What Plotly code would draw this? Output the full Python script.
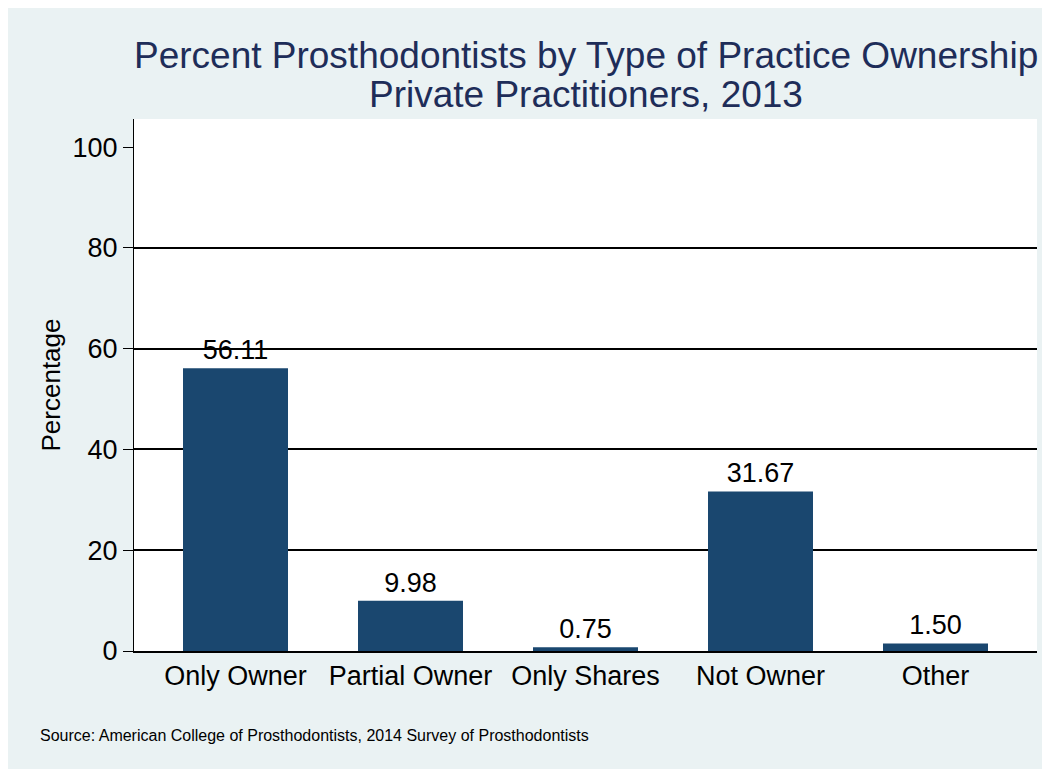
import plotly.graph_objects as go

categories = ["Only Owner", "Partial Owner", "Only Shares", "Not Owner", "Other"]
percentages = [56.11, 9.98, 0.75, 31.67, 1.50]
y_ticks = [0, 20, 40, 60, 80, 100]
grid_values = [20, 40, 60, 80]
title_line1 = "Percent Prosthodontists by Type of Practice Ownership"
title_line2 = "Private Practitioners, 2013"
source_text = "Source: American College of Prosthodontists, 2014 Survey of Prosthodontists"

FONT = "Arial, 'Liberation Sans', sans-serif"
BG = "#EAF2F3"
BAR = "#1A476F"
TITLE_C = "#1E2D59"

W, H = 1050, 769
OFF = 8  # page body margin
# plot-area edges in screen pixels
SL, SR, ST, SB = 134, 1037, 119, 651
L, T = SL - OFF, ST - OFF
R, B = W - (SR - OFF), H - (SB - OFF)
PW, PH = SR - SL, SB - ST

def px_x(x):
    return (x - SL) / PW

def px_y(y):
    return (SB - y) / PH

fig = go.Figure()
fig.add_trace(go.Bar(
    x=categories,
    y=percentages,
    marker=dict(color=BAR, line=dict(width=0)),
    width=0.6,
    text=[f"{v:.2f}" for v in percentages],
    textposition="outside",
    textfont=dict(family=FONT, size=27, color="black"),
    cliponaxis=False,
))

fig.update_layout(
    width=W, height=H,
    margin=dict(l=L, r=R, t=T, b=B, autoexpand=False),
    paper_bgcolor=BG,
    plot_bgcolor="white",
    showlegend=False,
    font=dict(family=FONT, color="black"),
    xaxis=dict(
        range=[-0.58, 4.58],
        showline=True, linecolor="black", linewidth=2,
        ticks="", showgrid=False,
        tickfont=dict(size=27, color="black"),
        fixedrange=True,
    ),
    yaxis=dict(
        range=[0, 105.6],
        tickvals=y_ticks,
        ticks="outside", ticklen=10, tickwidth=1, tickcolor="black",
        showline=True, linecolor="black", linewidth=1,
        showgrid=False, zeroline=False,
        minor=dict(tickvals=grid_values, showgrid=True, gridcolor="black",
                   gridwidth=1.5, ticks="", ticklen=0),
        tickfont=dict(size=27, color="black"),
        title=dict(text="Percentage", font=dict(size=26, color="black"), standoff=4),
    ),
    annotations=[
        dict(text=title_line1, xref="paper", yref="paper", x=0.5, y=px_y(55.5),
             xanchor="center", yanchor="middle", showarrow=False,
             font=dict(family=FONT, size=37, color=TITLE_C)),
        dict(text=title_line2, xref="paper", yref="paper", x=0.5, y=px_y(94.5),
             xanchor="center", yanchor="middle", showarrow=False,
             font=dict(family=FONT, size=37, color=TITLE_C)),
        dict(text=source_text, xref="paper", yref="paper", x=px_x(38), y=px_y(735),
             xanchor="left", yanchor="middle", showarrow=False,
             font=dict(family=FONT, size=16, color="black")),
    ],
)

fig.write_html("out.html")
